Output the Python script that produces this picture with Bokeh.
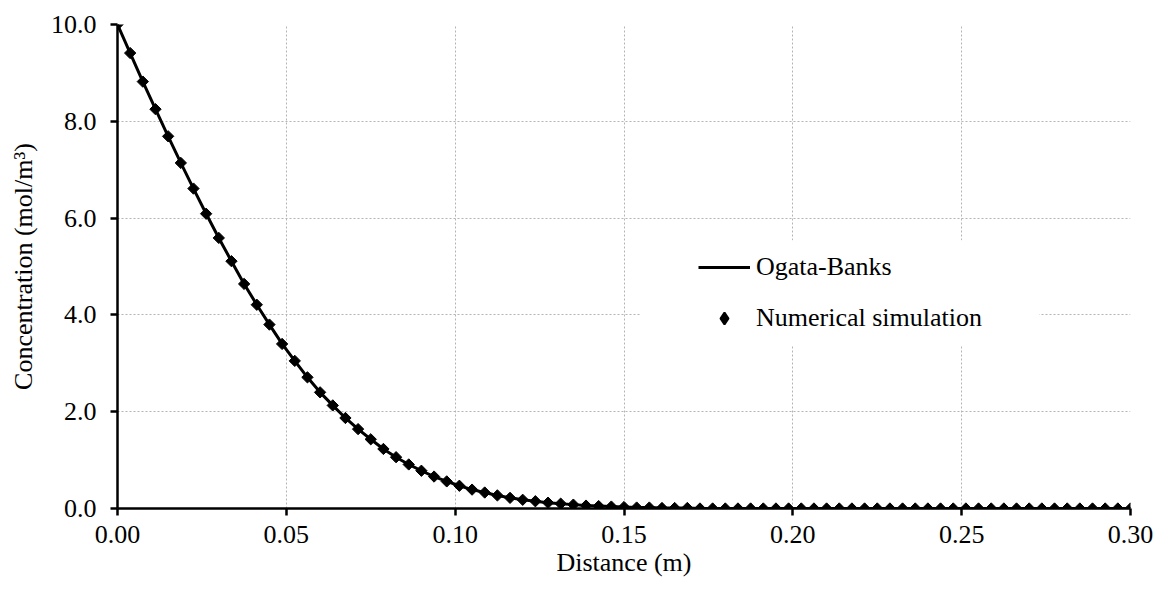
from bokeh.plotting import figure
from bokeh.models import (Range1d, FixedTicker, PrintfTickFormatter, Legend,
                          LegendItem, BoxAnnotation)
from bokeh.embed import file_html
from bokeh.resources import INLINE

# Distance along the column (m)
distance = [
    0.00000, 0.00375, 0.00750, 0.01125, 0.01500, 0.01875, 0.02250, 0.02625,
    0.03000, 0.03375, 0.03750, 0.04125, 0.04500, 0.04875, 0.05250, 0.05625,
    0.06000, 0.06375, 0.06750, 0.07125, 0.07500, 0.07875, 0.08250, 0.08625,
    0.09000, 0.09375, 0.09750, 0.10125, 0.10500, 0.10875, 0.11250, 0.11625,
    0.12000, 0.12375, 0.12750, 0.13125, 0.13500, 0.13875, 0.14250, 0.14625,
    0.15000, 0.15375, 0.15750, 0.16125, 0.16500, 0.16875, 0.17250, 0.17625,
    0.18000, 0.18375, 0.18750, 0.19125, 0.19500, 0.19875, 0.20250, 0.20625,
    0.21000, 0.21375, 0.21750, 0.22125, 0.22500, 0.22875, 0.23250, 0.23625,
    0.24000, 0.24375, 0.24750, 0.25125, 0.25500, 0.25875, 0.26250, 0.26625,
    0.27000, 0.27375, 0.27750, 0.28125, 0.28500, 0.28875, 0.29250, 0.29625,
    0.30000,
]

# Concentration from the numerical model (mol/m3)
numerical = [
    10.00, 9.41, 8.82, 8.25, 7.69, 7.14, 6.61, 6.09,
    5.59, 5.11, 4.64, 4.21, 3.80, 3.40, 3.05, 2.71,
    2.40, 2.13, 1.87, 1.64, 1.43, 1.23, 1.06, 0.91,
    0.78, 0.66, 0.56, 0.47, 0.39, 0.33, 0.27, 0.22,
    0.18, 0.15, 0.12, 0.10, 0.08, 0.06, 0.05, 0.04,
    0.03, 0.02, 0.02, 0.01, 0.01, 0.01, 0.00, 0.00,
    0.00, 0.00, 0.00, 0.00, 0.00, 0.00, 0.00, 0.00,
    0.00, 0.00, 0.00, 0.00, 0.00, 0.00, 0.00, 0.00,
    0.00, 0.00, 0.00, 0.00, 0.00, 0.00, 0.00, 0.00,
    0.00, 0.00, 0.00, 0.00, 0.00, 0.00, 0.00, 0.00,
    0.00,
]

# Analytical (Ogata-Banks) concentration at the same distances
ogata_banks = list(numerical)

x_ticks = [0.00, 0.05, 0.10, 0.15, 0.20, 0.25, 0.30]
y_ticks = [0.0, 2.0, 4.0, 6.0, 8.0, 10.0]

FONT = "Liberation Serif"
FS = "26px"

p = figure(width=1159, height=589, output_backend="svg", toolbar_location=None,
           x_range=Range1d(0, 0.30), y_range=Range1d(0, 10),
           min_border_left=117, min_border_right=29,
           min_border_top=24, min_border_bottom=81)
p.outline_line_color = None
p.background_fill_color = "white"
p.border_fill_color = "white"

# axes
for ax in (p.xaxis[0], p.yaxis[0]):
    ax.axis_line_width = 2.5
    ax.axis_line_color = "black"
    ax.major_tick_line_width = 2.5
    ax.major_tick_line_color = "black"
    ax.major_tick_in = 0
    ax.major_tick_out = 7
    ax.minor_tick_line_color = None
    ax.major_label_text_font = FONT
    ax.major_label_text_font_size = FS
    ax.major_label_text_color = "black"
    ax.axis_label_text_font = FONT
    ax.axis_label_text_font_size = FS
    ax.axis_label_text_font_style = "normal"
    ax.axis_label_text_color = "black"

p.xaxis.ticker = FixedTicker(ticks=x_ticks)
p.yaxis.ticker = FixedTicker(ticks=y_ticks)
p.xaxis.formatter = PrintfTickFormatter(format="%.2f")
p.yaxis.formatter = PrintfTickFormatter(format="%.1f")
p.xaxis.major_label_standoff = 10
p.yaxis.major_label_standoff = 14
p.xaxis.axis_label = "Distance (m)"
p.yaxis.axis_label = "Concentration (mol/m\u00b3)"
p.xaxis.axis_label_standoff = 2
p.yaxis.axis_label_standoff = 10

# dotted grid
for g in (p.xgrid[0], p.ygrid[0]):
    g.grid_line_color = "#b4b4b4"
    g.grid_line_dash = "2 2"
    g.grid_line_width = 1

line_r = p.line(distance, ogata_banks, line_color="black", line_width=3)
pts_r = p.scatter(distance, numerical, marker="square", angle=0.785398,
                  size=8, fill_color="black", line_color="black",
                  line_width=1)

# legend key for the simulated points: a zero-size diamond on the first
# sample, so only the legend swatch is visible
key_r = p.scatter(distance[:1], numerical[:1], marker="diamond", size=0,
                  fill_color="black", line_color="black", line_width=2)

# white panel behind the legend
p.add_layout(BoxAnnotation(left=0.155, right=0.273, bottom=3.37, top=5.54,
                           fill_color="white", fill_alpha=1.0,
                           line_alpha=0, level="underlay"))

legend = Legend(items=[LegendItem(label="Ogata-Banks", renderers=[line_r]),
                       LegendItem(label="Numerical simulation", renderers=[key_r])],
                location=(581, 175), padding=0, margin=0,
                border_line_alpha=0, background_fill_alpha=0,
                glyph_width=52, glyph_height=30, label_height=30,
                label_standoff=6, spacing=21,
                label_text_font=FONT, label_text_font_size=FS,
                label_text_color="black")
p.add_layout(legend)

open("out.html", "w").write(file_html(p, INLINE))
